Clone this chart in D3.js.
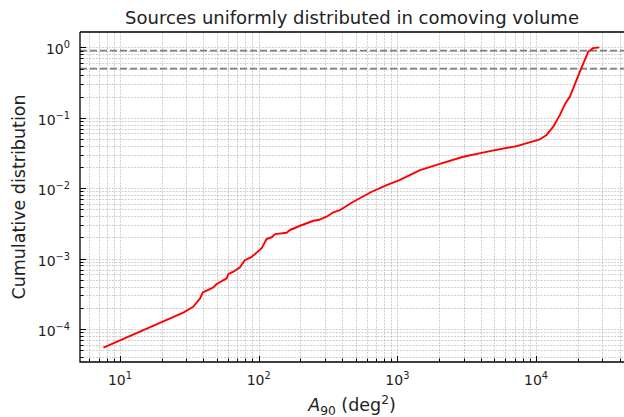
<!DOCTYPE html>
<html><head><meta charset="utf-8">
<script src="https://cdn.jsdelivr.net/npm/d3@7"></script>
<style>
html,body{margin:0;padding:0;background:#fff;}
svg{display:block;font-family:"DejaVu Sans",sans-serif;}
</style></head>
<body>
<svg id="chart" width="624" height="417"></svg>
<script>
// ---- data ----
const areaDeg2 = [7.6, 28.6, 33.7, 37.8, 39.5, 42.2, 47.1, 49.8, 58.8, 60.4, 65.6, 73.3, 76.7, 79.7, 89.1, 105, 114, 124, 131, 159, 168, 199, 248, 269, 309, 345, 386, 481, 653, 837, 1045, 1456, 1920, 2985, 4651, 7244, 10660, 11920, 13300, 14860, 16150, 17540, 20710, 23780, 25830, 28560];
const cumFrac = [5.46e-5, 1.71e-4, 2.07e-4, 2.73e-4, 3.32e-4, 3.50e-4, 3.91e-4, 4.36e-4, 5.25e-4, 6.04e-4, 6.52e-4, 7.52e-4, 8.57e-4, 9.55e-4, 1.06e-3, 1.40e-3, 1.90e-3, 2.01e-3, 2.23e-3, 2.33e-3, 2.55e-3, 2.93e-3, 3.45e-3, 3.53e-3, 3.94e-3, 4.55e-3, 4.90e-3, 6.43e-3, 8.91e-3, 1.11e-2, 1.31e-2, 1.81e-2, 2.14e-2, 2.80e-2, 3.37e-2, 3.97e-2, 4.95e-2, 5.71e-2, 7.48e-2, 0.110, 0.157, 0.200, 0.452, 0.869, 0.977, 1.0];
const refLevels = [0.9, 0.5];
const xTickVals = [10, 100, 1000, 10000];
const xTickExps = ["1", "2", "3", "4"];
const yTickVals = [1e-4, 1e-3, 1e-2, 1e-1, 1];
const yTickExps = ["\u22124", "\u22123", "\u22122", "\u22121", "0"];
const titleText = "Sources uniformly distributed in comoving volume";
const yLabelText = "Cumulative distribution";

// ---- layout ----
const L = 80, R = 624, T = 32, B = 362;
const svg = d3.select("#chart");
const x = d3.scaleLog().domain([5.148, 43050]).range([L, R]);
const y = d3.scaleLog().domain([3.4e-5, 1.656]).range([B, T]);

svg.append("defs").append("clipPath").attr("id", "clip")
  .append("rect").attr("x", L).attr("y", T).attr("width", R - L).attr("height", B - T);

// grid (major + minor)
const gx = x.ticks();
const gy = y.ticks();
const grid = svg.append("g").attr("stroke", "#b0b0b0").attr("stroke-opacity", 0.6)
  .attr("stroke-width", 1).attr("stroke-dasharray", "2,1.2");
grid.selectAll(".vx").data(gx).join("line")
  .attr("x1", d => Math.round(x(d)) + 0.5).attr("x2", d => Math.round(x(d)) + 0.5)
  .attr("y1", T).attr("y2", B);
grid.selectAll(".hy").data(gy).join("line")
  .attr("y1", d => Math.round(y(d)) + 0.5).attr("y2", d => Math.round(y(d)) + 0.5)
  .attr("x1", L).attr("x2", R);

// reference dashed lines
svg.append("g").selectAll("line").data(refLevels).join("line")
  .attr("x1", L).attr("x2", R)
  .attr("y1", d => y(d)).attr("y2", d => y(d))
  .attr("stroke", "#808080").attr("stroke-width", 1.6).attr("stroke-dasharray", "7,3");

// curve
const line = d3.line().x((d, i) => x(areaDeg2[i])).y(d => y(d));
svg.append("path").datum(cumFrac).attr("clip-path", "url(#clip)")
  .attr("d", line).attr("fill", "none").attr("stroke", "#ff0000").attr("stroke-width", 1.9)
  .attr("stroke-linejoin", "round");

// ticks
const isMajor = v => Math.abs(Math.log10(v) - Math.round(Math.log10(v))) < 1e-9;
const ticks = svg.append("g").attr("stroke", "#000").attr("stroke-width", 1);
ticks.selectAll(".tx").data(gx).join("line")
  .attr("x1", d => Math.round(x(d)) + 0.5).attr("x2", d => Math.round(x(d)) + 0.5)
  .attr("y1", B).attr("y2", d => B - (isMajor(d) ? 6 : 3.5));
ticks.selectAll(".ty").data(gy).join("line")
  .attr("y1", d => Math.round(y(d)) + 0.5).attr("y2", d => Math.round(y(d)) + 0.5)
  .attr("x1", L).attr("x2", d => L + (isMajor(d) ? 6 : 3.5));

// spines
svg.append("path").attr("d", `M${L},${T}V${B}H${R}M${L},${T}H${R}`)
  .attr("fill", "none").attr("stroke", "#000").attr("stroke-width", 1.3);

// tick labels
const fs = 14;
const xl = svg.append("g").attr("font-size", fs).attr("fill", "#222");
xTickVals.forEach((v, i) => {
  const t = xl.append("text").attr("x", x(v)).attr("y", 385).attr("text-anchor", "middle");
  t.append("tspan").text("10");
  t.append("tspan").attr("font-size", fs * 0.7).attr("dy", -6).text(xTickExps[i]);
});
const yl = svg.append("g").attr("font-size", fs).attr("fill", "#222");
yTickVals.forEach((v, i) => {
  const t = yl.append("text").attr("x", 70).attr("y", y(v) + 7).attr("text-anchor", "end");
  t.append("tspan").text("10");
  t.append("tspan").attr("font-size", fs * 0.7).attr("dy", -6).text(yTickExps[i]);
});

// title
svg.append("text").attr("x", (L + R) / 2).attr("y", 24).attr("text-anchor", "middle")
  .attr("font-size", 18).attr("fill", "#222").text(titleText);

// x label
const xlab = svg.append("text").attr("x", (L + R) / 2).attr("y", 411).attr("text-anchor", "middle")
  .attr("font-size", 17.5).attr("fill", "#222");
xlab.append("tspan").attr("font-style", "italic").text("A");
xlab.append("tspan").attr("font-size", 17.5 * 0.7).attr("dy", 4).text("90");
xlab.append("tspan").attr("dy", -4).text("\u00a0(deg");
xlab.append("tspan").attr("font-size", 17.5 * 0.7).attr("dy", -7).text("2");
xlab.append("tspan").attr("dy", 7).text(")");

// y label
svg.append("text").attr("transform", `translate(25,${(T + B) / 2}) rotate(-90)`)
  .attr("text-anchor", "middle").attr("font-size", 17.5).attr("fill", "#222").text(yLabelText);
</script>
</body></html>
